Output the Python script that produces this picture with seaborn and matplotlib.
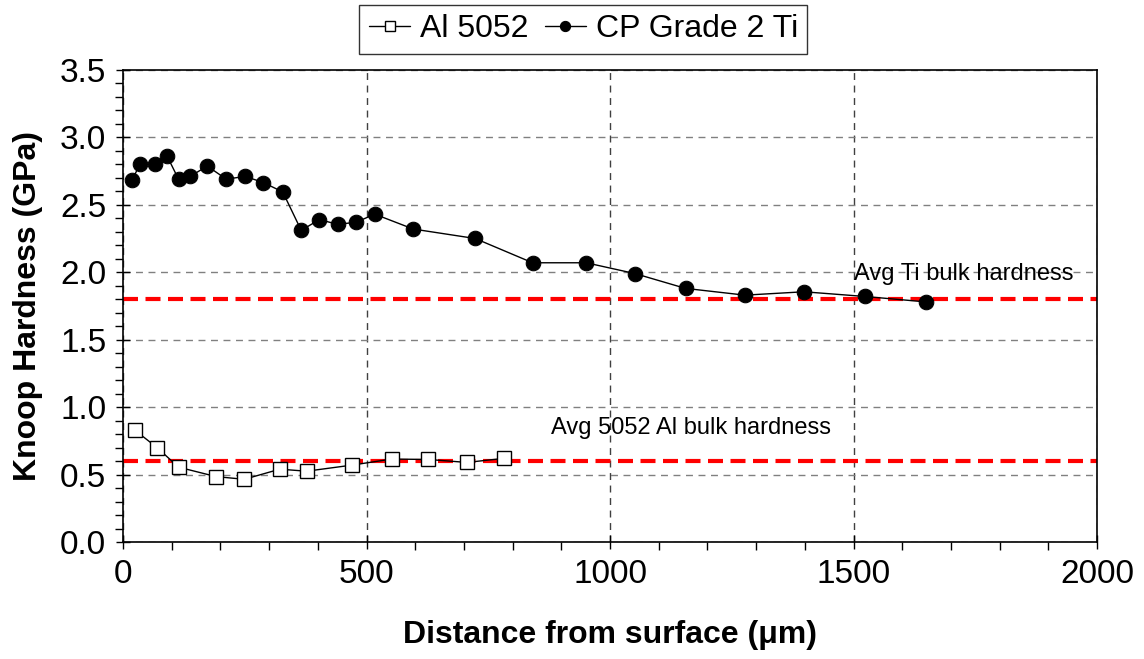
import numpy as np
import pandas as pd
import seaborn as sns
import matplotlib.pyplot as plt
from matplotlib.ticker import MultipleLocator

# Al 5052 data (distance in um, Knoop hardness in GPa)
al_x = [24, 70, 114, 191, 249, 322, 377, 470, 552, 627, 706, 782]
al_y = [0.83, 0.70, 0.555, 0.485, 0.465, 0.54, 0.525, 0.57, 0.615, 0.612, 0.59, 0.62]

# CP Grade 2 Ti data
ti_x = [18, 35, 65, 90, 114, 138, 173, 212, 251, 288, 328, 366, 403, 441, 478,
        517, 596, 723, 841, 951, 1051, 1155, 1277, 1398, 1524, 1648]
ti_y = [2.68, 2.80, 2.80, 2.865, 2.69, 2.71, 2.787, 2.69, 2.71, 2.665, 2.595, 2.31,
        2.39, 2.355, 2.37, 2.43, 2.32, 2.25, 2.07, 2.07, 1.99, 1.88, 1.83, 1.855, 1.82, 1.78]

# bulk reference values
al_bulk = 0.6
ti_bulk = 1.8

sns.set_style("ticks")
plt.rcParams['font.family'] = ['Liberation Sans', 'DejaVu Sans']
plt.rcParams['text.color'] = 'black'
plt.rcParams['xtick.color'] = 'black'
plt.rcParams['ytick.color'] = 'black'
plt.rcParams['axes.labelcolor'] = 'black'

fig, ax = plt.subplots(figsize=(11.44, 6.59), dpi=100)
fig.subplots_adjust(left=0.1075, right=0.959, bottom=0.1775, top=0.894)

sns.lineplot(x=al_x, y=al_y, ax=ax, sort=False, color='black', lw=1,
             marker='s', markersize=10, markerfacecolor='white',
             markeredgecolor='black', markeredgewidth=1, label='Al 5052')
sns.lineplot(x=ti_x, y=ti_y, ax=ax, sort=False, color='black', lw=1,
             marker='o', markersize=10.5, markerfacecolor='black',
             markeredgecolor='black', label='CP Grade 2 Ti')

ax.axhline(ti_bulk, color='red', lw=3, dashes=(3.6, 1.8), zorder=1)
ax.axhline(al_bulk, color='red', lw=3, dashes=(3.6, 1.8), zorder=1)
ax.text(1500, 1.99, 'Avg Ti bulk hardness', fontsize=17, va='center')
ax.text(878, 0.845, 'Avg 5052 Al bulk hardness', fontsize=17, va='center')

ax.set_xlim(0, 2000)
ax.set_ylim(0, 3.5)
ax.xaxis.set_major_locator(MultipleLocator(500))
ax.xaxis.set_minor_locator(MultipleLocator(100))
ax.yaxis.set_major_locator(MultipleLocator(0.5))
ax.yaxis.set_minor_locator(MultipleLocator(0.1))
ax.yaxis.set_major_formatter(plt.FormatStrFormatter('%.1f'))

ax.tick_params(which='major', direction='inout', length=10, width=1, labelsize=24, pad=7)
ax.tick_params(which='minor', direction='out', length=6, width=1)

ax.grid(True, axis='y', which='major', color='#808080', ls=(0, (5, 4)), lw=1, zorder=0)
ax.grid(True, axis='x', which='major', color='#404040', ls=(0, (5, 4)), lw=1, zorder=0)
for s in ax.spines.values():
    s.set_linewidth(1.2)
    s.set_color('black')

ax.set_xlabel('Distance from surface (\u03bcm)', fontsize=23, fontweight='bold', labelpad=22)
ax.set_ylabel('Knoop Hardness (GPa)', fontsize=23, fontweight='bold', labelpad=12)

handles, labels = ax.get_legend_handles_labels()
ax.get_legend().remove()
leg = fig.legend(handles, labels, loc='upper center', bbox_to_anchor=(0.51, 1.0),
                 ncol=2, fontsize=23, frameon=True, fancybox=False, edgecolor='black',
                 handlelength=1.3, handletextpad=0.3, columnspacing=0.5,
                 borderpad=0.3, borderaxespad=0.15, markerscale=0.7)
leg.get_frame().set_linewidth(1)

fig.savefig('out.png', dpi=100)
